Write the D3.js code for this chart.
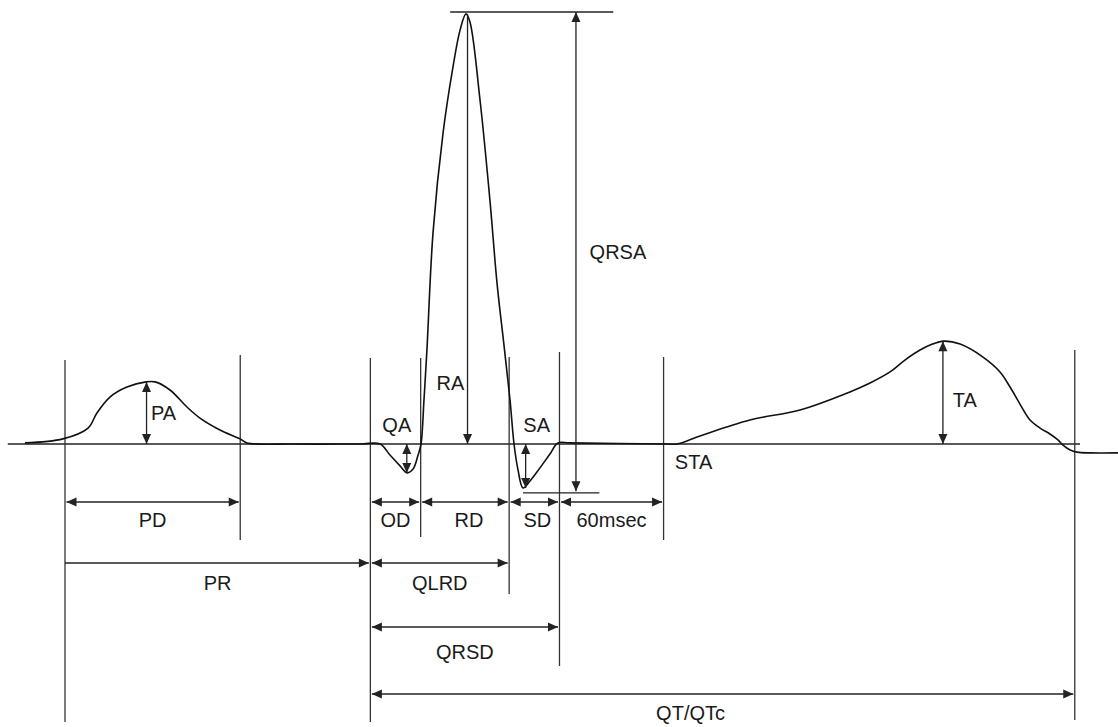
<!DOCTYPE html>
<html>
<head>
<meta charset="utf-8">
<script src="https://cdn.jsdelivr.net/npm/d3@7"></script>
<style>
  html, body { margin: 0; padding: 0; background: #fff; }
  svg text { font-family: "Liberation Sans", Arial, sans-serif; font-size: 20px; fill: #1a1a1a; }
</style>
</head>
<body>
<div id="chart"></div>
<script>
// ECG beat: time in ms from P onset, amplitude in mV
var ecgTime = [-23.1, -1.2, 13.3, 18.4, 25.9, 35.7, 46.7, 51.9, 60.5, 70.3, 77.8, 89.3, 100.9, 104.9, 131.4,
  170.0, 181.6, 187.3, 193.1, 197.1, 200.6, 203.5, 205.2,
  206.9, 208.6, 212.1, 217.9, 223.6, 227.7, 231.1,
  233.4, 239.2, 244.9, 249.0, 253.0, 256.5, 258.8, 261.1, 264.0,
  268.0, 272.0, 279.5, 284.1, 291.1, 347.0,
  352.7, 366.0, 394.8, 423.6, 452.4, 464.0, 475.5, 484.1, 492.8, 500.0, 506.1, 515.9, 529.1, 538.9,
  544.7, 550.4, 556.2, 562.0, 567.7, 572.3, 575.2, 579.3, 583.3, 590.8, 606.9];
var ecgMv = [0.004, 0.019, 0.059, 0.115, 0.174, 0.211, 0.230, 0.230, 0.200, 0.137, 0.096, 0.052, 0.019, 0.004, 0,
  0, 0, -0.041, -0.081, -0.107, -0.093, -0.041, 0,
  0.163, 0.348, 0.781, 1.152, 1.396, 1.533, 1.593,
  1.563, 1.274, 0.904, 0.596, 0.367, 0.163, 0, -0.096, -0.163,
  -0.137, -0.104, -0.037, 0.004, 0.004, 0,
  0, 0.030, 0.089, 0.126, 0.193, 0.226, 0.267, 0.311, 0.348, 0.370, 0.381, 0.370, 0.322, 0.267,
  0.211, 0.148, 0.089, 0.059, 0.037, 0.015, -0.004, -0.022, -0.030, -0.033, -0.033];

// wave boundaries (ms)
var boundaryNames = ["P on", "P off", "QRS on", "R on", "R off", "J", "J+60", "T off"];
var boundaryTimes = [0, 101, 176, 205, 256, 285, 345, 582];

// measured intervals (ms)
var intervalLabels = ["PD", "OD", "RD", "SD", "60msec", "PR", "QLRD", "QRSD", "QT/QTc"];
var intervalStart = [0, 176, 205, 256, 285, 0, 176, 176, 176];
var intervalEnd = [101, 205, 256, 285, 345, 176, 256, 285, 582];
var intervalRow = [0, 0, 0, 0, 0, 1, 1, 2, 3];

// measured amplitudes (ms, mV)
var ampLabels = ["PA", "QA", "RA", "SA", "TA", "QRSA"];
var ampTime = [47, 197, 232, 265.5, 506, 294.5];
var ampFrom = [0, 0, 1.593, 0, 0, 1.6];
var ampTo = [0.23, -0.107, 0, -0.163, 0.381, -0.175];

// ---- layout ----
var width = 1118, height = 727;
var rowY = [502, 563, 627, 694];           // interval arrow rows
var rowLabelDy = [25, 27, 32, 26];        // text baseline below the arrow
var boundaryTop = [360, 355, 358, 358, 357, 352, 357, 350];
var boundaryBottom = [722, 540, 722, 537, 594, 666, 540, 720];
var ampLabelOffset = { PA: [17, 7], QA: [-10, -26], RA: [-17, 161], SA: [11, -34], TA: [22, 14], QRSA: [42, 7] };
var intervalLabelDx = { "QT/QTc": -32, "RD": 4, "SD": 3 };
var singleHead = { PR: true, RA: true };
var ink = "#222";

var x = d3.scaleLinear().domain([0, 400]).range([65, 65 + 400 * 1.735]);
var y = d3.scaleLinear().domain([0, 1.6]).range([444, 12]);

var svg = d3.select("#chart").append("svg")
  .attr("width", width)
  .attr("height", height);

// filled triangle with its tip at (x1, y1), pointing away from (x0, y0)
function head(x0, y0, x1, y1) {
  var dx = x1 - x0, dy = y1 - y0, l = Math.sqrt(dx * dx + dy * dy);
  var ux = dx / l, uy = dy / l, len = 10, hw = 4.5;
  var bx = x1 - ux * len, by = y1 - uy * len;
  svg.append("path")
    .attr("d", "M" + x1 + "," + y1 + "L" + (bx - uy * hw) + "," + (by + ux * hw) +
      "L" + (bx + uy * hw) + "," + (by - ux * hw) + "Z")
    .attr("fill", ink);
}

function arrow(x0, y0, x1, y1, both) {
  svg.append("line")
    .attr("x1", x0).attr("y1", y0).attr("x2", x1).attr("y2", y1)
    .attr("stroke", ink).attr("stroke-width", 1.3);
  head(x0, y0, x1, y1);
  if (both) head(x1, y1, x0, y0);
}

// baseline
svg.append("line")
  .attr("x1", x(-33)).attr("x2", x(585))
  .attr("y1", y(0)).attr("y2", y(0))
  .attr("stroke", ink).attr("stroke-width", 1.3);

// boundary markers
svg.selectAll("line.boundary")
  .data(boundaryTimes)
  .enter().append("line")
  .attr("class", "boundary")
  .attr("x1", function(d) { return x(d); })
  .attr("x2", function(d) { return x(d); })
  .attr("y1", function(d, i) { return boundaryTop[i]; })
  .attr("y2", function(d, i) { return boundaryBottom[i]; })
  .attr("stroke", "#333")
  .attr("stroke-width", 1.3);

// QRSA reference lines at R top and S bottom
svg.append("line")
  .attr("x1", x(222)).attr("x2", x(316)).attr("y1", y(1.6)).attr("y2", y(1.6))
  .attr("stroke", ink).attr("stroke-width", 1.3);
svg.append("line")
  .attr("x1", x(264)).attr("x2", x(308)).attr("y1", y(-0.181)).attr("y2", y(-0.181))
  .attr("stroke", ink).attr("stroke-width", 1.3);

// ECG trace
var trace = d3.line()
  .x(function(i) { return x(ecgTime[i]); })
  .y(function(i) { return y(ecgMv[i]); })
  .curve(d3.curveCatmullRom.alpha(0.5));

svg.append("path")
  .attr("d", trace(d3.range(ecgTime.length)))
  .attr("fill", "none")
  .attr("stroke", "#111")
  .attr("stroke-width", 1.6);

// interval arrows
intervalLabels.forEach(function(lab, i) {
  var x0 = x(intervalStart[i]) + 1.5, x1 = x(intervalEnd[i]) - 1.5, ry = rowY[intervalRow[i]];
  if (singleHead[lab]) arrow(x(intervalStart[i]), ry, x1, ry, false);
  else arrow(x0, ry, x1, ry, true);
  svg.append("text")
    .attr("x", (x0 + x1) / 2 + (intervalLabelDx[lab] || 0))
    .attr("y", ry + rowLabelDy[intervalRow[i]])
    .attr("text-anchor", "middle")
    .text(lab);
});

// amplitude arrows
ampLabels.forEach(function(lab, i) {
  var ax = x(ampTime[i]), y0 = y(ampFrom[i]), y1 = y(ampTo[i]);
  arrow(ax, y0, ax, y1, !singleHead[lab]);
  var off = ampLabelOffset[lab];
  svg.append("text")
    .attr("x", ax + off[0])
    .attr("y", (y0 + y1) / 2 + off[1])
    .attr("text-anchor", "middle")
    .text(lab);
});

// ST amplitude point label
svg.append("text")
  .attr("x", x(boundaryTimes[6]) + 30)
  .attr("y", y(0) + 25)
  .attr("text-anchor", "middle")
  .text("STA");
</script>
</body>
</html>
